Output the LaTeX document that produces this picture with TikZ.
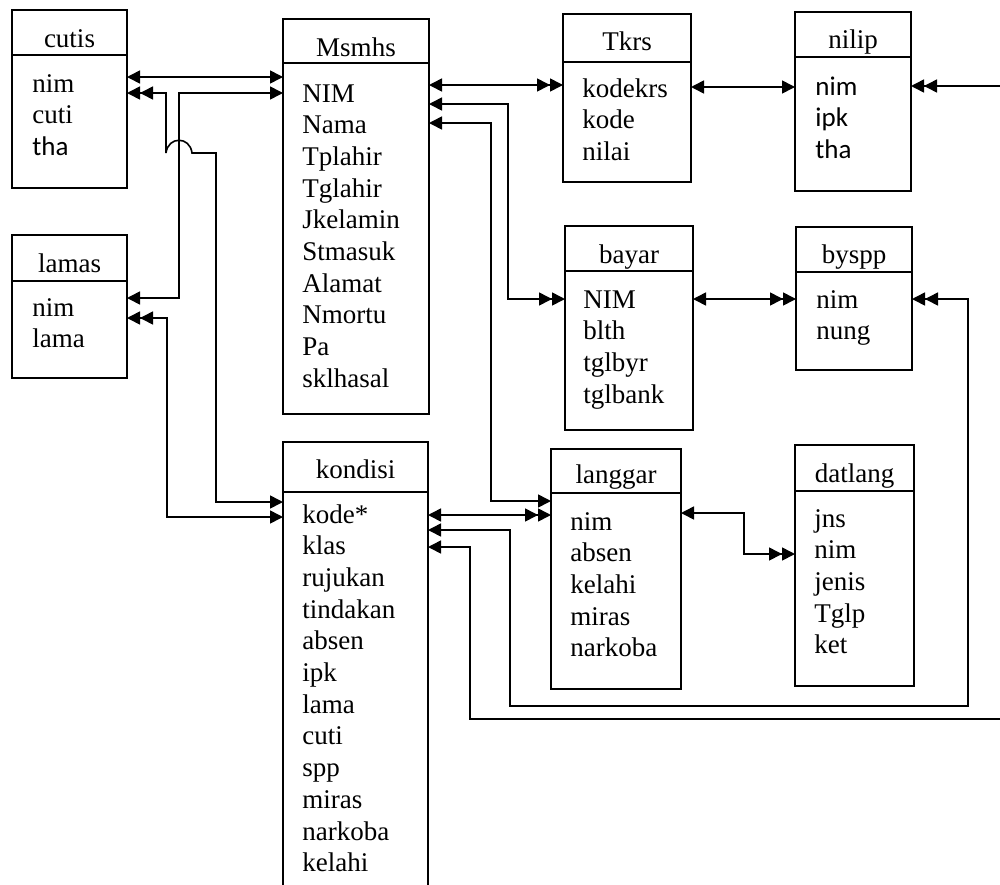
\documentclass[tikz,border=0pt]{standalone}
\usepackage{fontspec}
\setmainfont{Liberation Serif}
\newfontfamily\calfont{Carlito}
\usetikzlibrary{arrows.meta}
\tikzset{
  hd/.tip={Triangle[length=6.5pt,width=6.5pt,sep=0pt]},
  hdd/.tip={Triangle[length=6.5pt,width=6.5pt,sep=0pt] Triangle[length=6.5pt,width=6.5pt,sep=0pt]},
}
% table frame: name, left, top, right, bottom, header rule
\newcommand\entbox[6]{%
  \node[ent, minimum width={(#4-#2)*0.5pt}, minimum height={(#5-#3)*0.5pt}] (#1) at (#2,#3) {};
  \draw[rule] (#1.west |- 0,#6) -- (#1.east |- 0,#6);
}
\begin{document}
\begin{tikzpicture}[x=0.5pt,y=-0.5pt,
  ent/.style={draw, line width=0.8pt, inner sep=0pt, outer sep=0pt, anchor=north west},
  rule/.style={line width=0.8pt},
  txt/.style={inner sep=0pt, font=\fontsize{13.5pt}{16pt}\selectfont},
  fld/.style={txt, anchor=base west},
  ttl/.style={txt, anchor=base},
  con/.style={line width=0.8pt}]

\useasboundingbox (0,0) rectangle (1000,884);
\clip (0,0) rectangle (1000,884);

% ---------- tables ----------
\entbox{cutis}{12}{10}{127}{188}{55}
\node[ttl] (cutis-t) at (cutis.center |- 0,47) {cutis};
\foreach \t [count=\i from 0] in {nim,cuti}
  \node[fld] (cutis-\i) at (32,{92+31.7*\i}) {\t};
\node[fld] (cutis-2) at (32,155.4) {\calfont tha};

\entbox{lamas}{12}{235}{127}{378}{281}
\node[ttl] (lamas-t) at (lamas.center |- 0,272) {lamas};
\foreach \t [count=\i from 0] in {nim,lama}
  \node[fld] (lamas-\i) at (32,{316+31.7*\i}) {\t};

\entbox{msmhs}{283}{19}{429}{414}{63}
\node[ttl] (msmhs-t) at (msmhs.center |- 0,56) {Msmhs};
\foreach \t [count=\i from 0] in {NIM,Nama,Tplahir,Tglahir,Jkelamin,Stmasuk,Alamat,Nmortu,Pa,sklhasal}
  \node[fld] (msmhs-\i) at (302,{102+31.7*\i}) {\t};

\entbox{tkrs}{563}{14}{691}{182}{62}
\node[ttl] (tkrs-t) at (tkrs.center |- 0,50) {Tkrs};
\foreach \t [count=\i from 0] in {kodekrs,kode,nilai}
  \node[fld] (tkrs-\i) at (582,{97+31.7*\i}) {\t};

\entbox{nilip}{795}{12}{911}{191}{57}
\node[ttl] (nilip-t) at (nilip.center |- 0,48) {nilip};
\foreach \t [count=\i from 0] in {nim,ipk,tha}
  \node[fld] (nilip-\i) at (815,{95+31.7*\i}) {\calfont\t};

\entbox{bayar}{565}{226}{693}{430}{271}
\node[ttl] (bayar-t) at (bayar.center |- 0,263) {bayar};
\foreach \t [count=\i from 0] in {NIM,blth,tglbyr,tglbank}
  \node[fld] (bayar-\i) at (583,{308+31.7*\i}) {\t};

\entbox{byspp}{796}{227}{912}{370}{272}
\node[ttl] (byspp-t) at (byspp.center |- 0,263) {byspp};
\foreach \t [count=\i from 0] in {nim,nung}
  \node[fld] (byspp-\i) at (816,{308+31.7*\i}) {\t};

\entbox{kondisi}{283}{442}{428}{900}{492}
\node[ttl] (kondisi-t) at (kondisi.center |- 0,478) {kondisi};
\foreach \t [count=\i from 0] in {kode*,klas,rujukan,tindakan,absen,ipk,lama,cuti,spp,miras,narkoba,kelahi}
  \node[fld] (kondisi-\i) at (302,{523+31.7*\i}) {\t};

\entbox{langgar}{551}{449}{681}{689}{493}
\node[ttl] (langgar-t) at (langgar.center |- 0,483) {langgar};
\foreach \t [count=\i from 0] in {nim,absen,kelahi,miras,narkoba}
  \node[fld] (langgar-\i) at (570,{530+31.7*\i}) {\t};

\entbox{datlang}{795}{445}{914}{686}{491}
\node[ttl] (datlang-t) at (datlang.center |- 0,482) {datlang};
\foreach \t [count=\i from 0] in {jns,nim,jenis,Tglp,ket}
  \node[fld] (datlang-\i) at (814,{527+31.7*\i}) {\t};

% ---------- relations ----------
\draw[con, {hd}-{hd}] (cutis.east |- 0,77) -- (msmhs.west |- 0,77);
\draw[con, {hdd}-{hd}] (cutis.east |- 0,93) -| (166,153)
  .. controls (168,136) and (190,136) .. (192,153) -| (216,502) -- (kondisi.west |- 0,502);
\draw[con, {hd}-{hd}] (msmhs.west |- 0,93) -| (179,298) -- (lamas.east |- 0,298);
\draw[con, {hdd}-{hd}] (lamas.east |- 0,318) -| (167,517) -- (kondisi.west |- 0,517);

\draw[con, {hd}-{hdd}] (msmhs.east |- 0,85) -- (tkrs.west |- 0,85);
\draw[con, {hd}-{hdd}] (msmhs.east |- 0,104) -| (508,299) -- (bayar.west |- 0,299);
\draw[con, {hd}-{hd}] (msmhs.east |- 0,123) -| (491,501) -- (langgar.west |- 0,501);

\draw[con, {hd}-{hd}] (tkrs.east |- 0,87) -- (nilip.west |- 0,87);
\draw[con, {hd}-{hdd}] (bayar.east |- 0,299) -- (byspp.west |- 0,299);

\draw[con, {hd}-{hdd}] (kondisi.east |- 0,515) -- (langgar.west |- 0,515);
\draw[con, {hd}-{hdd}] (kondisi.east |- 0,530) -| (510,706) -| (968,299) -- (byspp.east |- 0,299);
\draw[con, {hd}-{hdd}] (kondisi.east |- 0,547) -| (470,719) -| (1015,86) -- (nilip.east |- 0,86);

\draw[con, {hd}-{hdd}] (langgar.east |- 0,513) -| (744,554) -- (datlang.west |- 0,554);
\end{tikzpicture}
\end{document}
